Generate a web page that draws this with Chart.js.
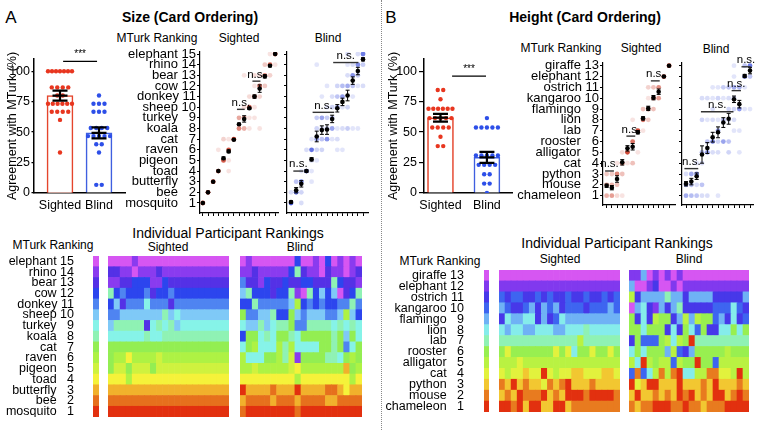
<!DOCTYPE html>
<html><head><meta charset="utf-8">
<script src="https://cdn.jsdelivr.net/npm/chart.js@4.4.1/dist/chart.umd.min.js"></script>
<style>
html,body{margin:0;padding:0;background:#fff}
body{position:relative;width:757px;height:430px;overflow:hidden;font-family:"Liberation Sans",Arial,Helvetica,sans-serif;color:#000}
canvas{position:absolute;display:block}
.t{position:absolute;white-space:nowrap;line-height:1;transform:translate(-50%,-50%)}
.sep{position:absolute;left:381px;top:0;height:430px;border-left:1px dotted #888}
</style></head><body>
<div class="sep"></div>
<div class="t" style="left:11px;top:17px;font-size:17px">A</div>
<div class="t" style="left:190px;top:17px;font-size:14px;font-weight:bold">Size (Card Ordering)</div>
<div class="t" style="left:391px;top:17px;font-size:17px">B</div>
<div class="t" style="left:585px;top:17px;font-size:14px;font-weight:bold">Height (Card Ordering)</div>
<div class="t" style="left:157px;top:38px;font-size:12px">MTurk Ranking</div>
<div class="t" style="left:239px;top:38px;font-size:12px">Sighted</div>
<div class="t" style="left:328px;top:38px;font-size:12px">Blind</div>
<div class="t" style="left:561px;top:48px;font-size:12px">MTurk Ranking</div>
<div class="t" style="left:641px;top:48px;font-size:12px">Sighted</div>
<div class="t" style="left:716px;top:49px;font-size:12px">Blind</div>
<div class="t" style="left:53px;top:245px;font-size:12px">MTurk Ranking</div>
<div class="t" style="left:228px;top:233px;font-size:14px">Individual Participant Rankings</div>
<div class="t" style="left:168px;top:247px;font-size:12px">Sighted</div>
<div class="t" style="left:300px;top:247px;font-size:12px">Blind</div>
<div class="t" style="left:440px;top:261px;font-size:12px">MTurk Ranking</div>
<div class="t" style="left:617px;top:243px;font-size:14px">Individual Participant Rankings</div>
<div class="t" style="left:560px;top:259px;font-size:12px">Sighted</div>
<div class="t" style="left:689px;top:259px;font-size:12px">Blind</div>
<script>
// ---------------- DATA ----------------
const groups = ['Sighted', 'Blind'];
const barTicks = [0, 25, 50, 75, 100];

// Agreement with MTurk (%) per participant
const sizeAgreeSighted = [100,100,100,100,100,100,100,86.7,86.7,86.7,86.7,80,80,73.3,73.3,73.3,73.3,73.3,73.3,66.7,66.7,66.7,66.7,60,33.3];
const sizeAgreeBlind = [80,73.3,73.3,73.3,66.7,66.7,66.7,53.3,53.3,53.3,53.3,46.7,46.7,46.7,46.7,46.7,40,40,33.3,6.7,6.7];
const sizeAgreeMean = [80, 49.3];
const sizeAgreeSem = [4.1, 4.5];
const heightAgreeSighted = [84.6,84.6,76.9,69.2,69.2,69.2,69.2,69.2,69.2,61.5,61.5,61.5,61.5,61.5,53.8,53.8,53.8,53.8,46.2,38.5,38.5];
const heightAgreeBlind = [61.5,53.8,53.8,53.8,53.8,53.8,30.8,30.8,30.8,30.8,30.8,23.1,23.1,23.1,23.1,15.4,15.4,7.7,7.7,0];
const heightAgreeMean = [61.8, 29.3];
const heightAgreeSem = [3.2, 4.5];

// Items in MTurk rank order (rank 1 first)
const sizeItems = ['mosquito','bee','butterfly','toad','pigeon','raven','cat','koala','turkey','sheep','donkey','cow','bear','rhino','elephant'];
const heightItems = ['chameleon','mouse','python','cat','alligator','rooster','lab','lion','flamingo','kangaroo','ostrich','elephant','giraffe'];

// Mean participant rank per item (item order = MTurk rank 1..N) and SEM
const sizeMeanSighted = [1.0,2.0,3.0,4.0,5.2,5.85,6.95,8.4,8.9,9.9,11.0,11.75,12.9,13.9,15.0];
const sizeSemSighted  = [0,0,0,0,0.12,0.12,0.05,0.1,0.3,0.1,0.15,0.35,0.15,0.1,0];
const sizeMeanBlind   = [1.1,2.2,2.8,4.0,5.1,7.25,7.85,7.9,8.9,9.9,10.5,11.1,12.5,13.4,14.5];
const sizeSemBlind    = [0.1,0.25,0.3,0.1,0.15,0.5,0.4,0.45,0.35,0.35,0.35,0.5,0.35,0.35,0.15];
const heightMeanSighted = [1.92,1.74,2.54,4.08,5.37,5.52,6.85,8.14,9.06,10.05,10.6,12.0,13.0];
const heightSemSighted  = [0.15,0.2,0.3,0.25,0.25,0.3,0.15,0.15,0.2,0.2,0.25,0.05,0];
const heightMeanBlind   = [2.1,2.3,2.8,4.8,5.4,6.4,6.85,7.75,8.1,9.9,9.45,12.05,12.55];
const heightSemBlind    = [0.2,0.3,0.3,0.8,0.5,0.45,0.5,0.45,0.5,0.3,0.35,0.15,0.3];

// n.s. brackets: [from item, to item, at rank]
const sizeNsSighted = [[7.6,9.1,9.8],[10.6,12.15,12.45]];
const sizeNsBlind = [[1.45,3.4,4.0],[5.2,9.4,9.52],[9.2,14.1,14.2]];
const heightNsSighted = [[0.7,2.4,3.28],[4.8,6.5,6.5],[9.5,11.2,11.6]];
const heightNsBlind = [[0.7,3.3,3.5],[3.8,9.9,8.75],[9.55,11.3,10.7],[11.4,13.1,12.9]];

// Individual participant rankings: rows from highest MTurk rank (top) to rank 1 (bottom), one column per participant
const sizeSighted = [
 [15,15,15,15,14,15,15,15,15,15,15,15,15,15,15,15,15,15,15,15],
 [13,13,14,14,15,14,14,14,13,14,14,14,14,14,14,14,14,14,14,14],
 [14,14,13,13,12,12,12,14,14,12,13,13,13,13,13,13,13,13,13,13],
 [8,12,11,12,12,12,11,13,12,12,11,12,12,12,12,12,12,12,12,12],
 [12,10,13,11,11,11,9,11,11,11,13,11,11,11,11,11,11,11,11,11],
 [11,11,10,10,10,10,10,10,10,8,10,9,10,10,10,10,10,10,10,10],
 [10,8,8,8,8,8,13,9,8,9,8,10,9,9,9,9,9,9,9,9],
 [9,9,9,9,9,9,8,9,9,8,8,8,8,8,8,8,8,8,8,8],
 [7,7,7,7,7,7,7,7,7,7,7,7,7,7,7,7,7,7,7,7],
 [7,6,6,4,6,6,6,6,5,6,6,6,6,6,6,6,6,6,6,6],
 [7,5,5,7,5,5,5,7,5,5,5,5,5,5,5,5,5,5,5,5],
 [4,4,4,6,4,4,4,4,4,4,4,4,4,4,4,4,4,4,4,4],
 [3,3,3,3,3,3,3,3,3,3,3,3,3,3,3,3,3,3,3,3],
 [2,2,2,2,2,2,2,2,2,2,2,2,2,2,2,2,2,2,2,2],
 [1,1,1,1,1,1,1,1,1,1,1,1,1,1,1,1,1,1,1,1]
];
const sizeBlind = [
 [15,14,15,15,15,15,15,15,15,12,15,15,14,15,12,15,14,15,14,15],
 [14,14,13,14,14,14,14,14,12,8,13,14,14,15,13,14,14,15,14,13],
 [11,13,13,14,12,13,13,12,13,13,12,12,13,13,13,8,12,13,13,14],
 [10,8,12,12,12,13,12,12,8,14,15,8,12,10,12,10,15,13,12,8],
 [12,12,8,11,11,11,11,11,10,6,12,11,12,11,12,12,11,11,8,11],
 [7,11,11,10,10,8,12,12,7,10,11,10,10,10,11,11,10,6,10,12],
 [9,10,10,8,10,9,8,8,7,11,11,8,8,8,8,9,8,9,8,9],
 [12,7,7,9,8,9,7,7,8,9,7,7,7,7,7,8,7,10,7,9],
 [9,7,6,9,9,9,6,8,6,9,9,9,9,7,7,8,7,11,9,7],
 [6,9,9,9,7,7,6,8,5,14,7,7,7,7,8,8,9,7,6,7],
 [6,6,5,6,6,6,6,6,5,4,6,6,6,6,6,6,6,3,7,6],
 [4,4,4,4,4,4,4,4,4,6,4,4,4,4,4,4,4,4,6,4],
 [1,3,3,3,3,2,3,3,3,1,3,3,3,3,2,2,3,4,3,3],
 [3,2,2,2,2,3,2,2,2,3,2,2,2,2,3,3,2,2,2,2],
 [2,1,1,1,1,1,1,1,1,2,1,1,1,1,1,1,1,1,1,1]
];
const heightSighted = [
 [13,13,13,13,13,13,13,13,13,13,13,13,13,13,13,13,13,13,13,13],
 [12,12,12,12,12,12,12,12,12,12,12,12,12,12,12,12,12,12,12,12],
 [10,11,10,10,11,11,10,11,10,11,11,10,11,11,10,11,11,10,11,10],
 [9,10,11,11,10,9,11,9,10,9,11,10,10,10,11,10,10,10,9,10],
 [11,8,9,9,8,8,11,9,11,10,8,9,9,9,9,9,9,9,9,9],
 [8,9,8,8,9,9,8,8,8,9,9,8,8,8,7,8,8,8,8,8],
 [7,7,7,7,7,7,7,7,7,7,7,7,7,5,7,7,7,7,7,7],
 [6,4,6,6,6,6,6,6,6,4,6,4,8,6,6,4,6,6,4,6],
 [5,5,5,4,5,5,5,5,5,5,5,5,5,5,5,5,5,5,5,5],
 [4,5,4,4,3,4,4,1,4,5,4,4,3,3,4,4,4,3,3,4],
 [2,3,1,3,2,3,3,4,2,3,2,1,3,3,3,2,3,3,3,3],
 [3,2,3,1,2,2,2,1,3,2,3,1,1,1,2,1,1,1,1,2],
 [1,1,2,1,3,1,1,3,3,1,1,3,2,2,2,2,2,2,2,2]
];
const heightBlind = [
 [12,12,9,13,12,13,12,13,12,13,13,13,13,13,13,13,13,13,13,13],
 [9,13,13,12,11,13,13,12,13,12,12,12,12,12,12,12,12,12,12,12],
 [5,11,9,9,9,9,7,9,9,11,9,9,9,9,11,11,11,11,11,9],
 [13,9,8,11,12,9,11,9,7,11,11,11,11,11,10,10,10,8,10,11],
 [6,11,8,11,5,6,6,11,9,5,9,5,6,6,10,9,11,8,11,10],
 [6,6,8,6,6,6,11,8,11,6,8,10,6,11,11,8,8,6,8,6],
 [11,6,10,10,10,6,5,8,5,6,1,7,7,7,7,7,7,7,7,7],
 [8,6,8,6,6,6,9,5,10,11,9,6,6,6,6,6,5,6,6,6],
 [5,8,1,5,6,5,5,10,5,6,6,1,6,6,10,5,5,5,5,5],
 [10,2,10,8,5,2,5,2,1,8,8,5,5,2,2,4,4,5,1,5],
 [1,4,3,1,1,3,3,3,1,3,3,3,2,3,1,3,3,3,2,3],
 [3,1,3,3,2,3,2,3,1,2,1,3,2,3,1,1,3,2,1,2],
 [2,3,2,2,1,1,1,2,2,1,2,2,3,2,2,2,1,1,1,1]
];

// ---------------- STYLE / HELPERS ----------------
const rainbow = ['#e2300f','#e6701d','#f1b12c','#f5f23a','#cff23f','#aef244','#93ee52','#8ff2b4','#86f3e8','#7fc9f7','#4f84f1','#2c45ee','#5431e6','#8a3bef','#d656f2'];
function hex(h){return [1,3,5].map(i=>parseInt(h.substr(i,2),16));}
function colorFor(rank,n){
  const t=(rank-1)/(n-1)*(rainbow.length-1);
  const i=Math.min(Math.floor(t),rainbow.length-2), f=t-i;
  const a=hex(rainbow[i]), b=hex(rainbow[i+1]);
  return 'rgb('+a.map((v,k)=>Math.round(v+(b[k]-v)*f)).join(',')+')';
}
const FONT='"Liberation Sans", Arial, Helvetica, sans-serif';
Chart.defaults.font.family=FONT;
Chart.defaults.color='#000';
function mk(x,y,w,h){const c=document.createElement('canvas');c.width=w;c.height=h;c.style.left=x+'px';c.style.top=y+'px';c.style.width=w+'px';c.style.height=h+'px';document.body.appendChild(c);return c;}
const zeroPad=s=>{s.paddingTop=s.paddingBottom=s.paddingLeft=s.paddingRight=0;};
const fixW=w=>s=>{s.width=w;zeroPad(s);};
const fixH=h=>s=>{s.height=h;zeroPad(s);};
const base={animation:false,responsive:false,events:[],plugins:{legend:{display:false},tooltip:{enabled:false}}};
function itemLabel(names,i){const r=i+1;return names[i]+' '+(r<10?'\u2007':'')+r;}

function swarm(vals,center,ppu){
  const cnt=new Map();vals.forEach(v=>cnt.set(v,(cnt.get(v)||0)+1));
  const pts=[];
  cnt.forEach((k,v)=>{const sp=Math.min(5.5,24/Math.max(k-1,1));for(let j=0;j<k;j++)pts.push({x:center+(j-(k-1)/2)*sp/ppu,y:v});});
  return pts;
}

function barChart(cx,cy,w,vals,means,sems,sig,g){
  const c=mk(cx,cy,w,180);
  const dotCols=['#e8361f','#2d4fe8'], edge=['#e5452c','#3f5fe0'];
  const ds=vals.map((v,gi)=>({type:'scatter',data:swarm(v,gi+1,g.ppu),pointRadius:2.2,pointBorderWidth:0,pointBackgroundColor:dotCols[gi]}));
  ds.push({type:'bar',data:means.map((m,i)=>({x:i+1,y:m})),backgroundColor:'#fff',borderColor:edge,borderWidth:1.6,barThickness:26,borderSkipped:'bottom'});
  const ov={id:'ov',
    afterDatasetsDraw(ch){
      const x=ch.scales.x,y=ch.scales.y,ctx=ch.ctx;ctx.save();ctx.strokeStyle='#000';ctx.lineWidth=2.2;
      means.forEach((m,i)=>{const px=x.getPixelForValue(i+1),a=y.getPixelForValue(m-sems[i]),b=y.getPixelForValue(m+sems[i]);
        ctx.beginPath();ctx.moveTo(px,a);ctx.lineTo(px,b);ctx.moveTo(px-7.5,a);ctx.lineTo(px+7.5,a);ctx.moveTo(px-7.5,b);ctx.lineTo(px+7.5,b);
        ctx.moveTo(px-7.5,y.getPixelForValue(m));ctx.lineTo(px+7.5,y.getPixelForValue(m));ctx.stroke();});
      const x1=x.getPixelForValue(sig[0]),x2=x.getPixelForValue(sig[1]),py=y.getPixelForValue(sig[2]);
      ctx.lineWidth=1.2;ctx.beginPath();ctx.moveTo(x1,py);ctx.lineTo(x2,py);ctx.stroke();
      ctx.fillStyle='#000';ctx.font='10px '+FONT;ctx.textAlign='center';ctx.textBaseline='bottom';ctx.fillText('***',(x1+x2)/2,py-2);
      ctx.restore();}
  };
  return new Chart(c,{type:'scatter',data:{datasets:ds},plugins:[ov],options:{...base,
    layout:{padding:{top:g.padT,right:g.padR,left:0,bottom:0}},
    scales:{
      x:{type:'linear',offset:false,min:g.xmin,max:g.xmax,afterBuildTicks:s=>{s.ticks=groups.map((_,i)=>({value:i+1}));},afterFit:fixH(g.xH),
        ticks:{padding:5,autoSkip:false,maxRotation:0,font:{size:12.5},callback:v=>groups[Math.round(v)-1]},grid:{display:false,drawTicks:false,offset:false},border:{color:'#000',width:1.5}},
      y:{type:'linear',min:0,max:110,afterBuildTicks:s=>{s.ticks=barTicks.map(v=>({value:v}));},afterFit:fixW(g.yW),
        ticks:{display:true,padding:g.tp,autoSkip:false,font:{size:12.5,lineHeight:1},callback:(v,i)=>String(barTicks[i])},
        grid:{display:true,drawOnChartArea:false,tickLength:g.tl,color:'#000',lineWidth:1.2},border:{color:'#000',width:1.5},
        title:{display:true,text:'Agreement with MTurk (%)',font:{size:12.5},padding:{top:g.tPad,bottom:0}}}
    }}});
}

function dotPlot(c,rows,means,sems,ns,rgb,names,g){
  const n=rows.length,pts=[],cols=[];
  for(let item=1;item<=n;item++){
    const row=rows[n-item],cnt=new Map();row.forEach(v=>cnt.set(v,(cnt.get(v)||0)+1));
    cnt.forEach((k,r)=>{pts.push({x:item,y:r});cols.push('rgba('+rgb+','+(0.1+0.9*k/row.length).toFixed(3)+')');});
  }
  const ov={id:'ov',afterDatasetsDraw(ch){
    const x=ch.scales.x,y=ch.scales.y,ctx=ch.ctx;ctx.save();ctx.strokeStyle='#000';ctx.lineWidth=1;
    means.forEach((m,i)=>{const s=sems[i];if(s<0.03)return;const px=x.getPixelForValue(i+1),a=y.getPixelForValue(m-s),b=y.getPixelForValue(m+s);
      ctx.beginPath();ctx.moveTo(px,a);ctx.lineTo(px,b);ctx.moveTo(px-2,a);ctx.lineTo(px+2,a);ctx.moveTo(px-2,b);ctx.lineTo(px+2,b);ctx.stroke();});
    ctx.strokeStyle='#333';ctx.lineWidth=1.4;ctx.fillStyle='#000';ctx.font='11.5px '+FONT;ctx.textAlign='center';ctx.textBaseline='bottom';
    ns.forEach(([a,b,r])=>{const x1=x.getPixelForValue(a),x2=x.getPixelForValue(b),py=y.getPixelForValue(r);
      ctx.beginPath();ctx.moveTo(x1,py);ctx.lineTo(x2,py);ctx.stroke();ctx.fillText('n.s.',(x1+x2)/2,py-1);});
    ctx.restore();}};
  const tickGrid={display:true,drawOnChartArea:false,tickLength:3,color:'#000',lineWidth:1};
  return new Chart(c,{type:'scatter',data:{datasets:[
      {data:means.map((m,i)=>({x:i+1,y:m})),pointRadius:2.3,pointBorderWidth:0,pointBackgroundColor:'#000'},
      {data:pts,pointRadius:2.4,pointBorderWidth:0,pointBackgroundColor:cols}
    ]},plugins:[ov],options:{...base,
    layout:{padding:{top:g.padT,right:g.padR,left:0,bottom:0}},
    scales:{
      x:{type:'linear',min:g.xmin,max:g.xmax,afterBuildTicks:s=>{s.ticks=means.map((_,i)=>({value:i+1}));},afterFit:fixH(g.xH),
        ticks:{display:false,autoSkip:false},grid:tickGrid,border:{color:'#000',width:1.2}},
      y:{type:'linear',min:g.ymin,max:g.ymax,afterBuildTicks:s=>{s.ticks=means.map((_,i)=>({value:i+1}));},afterFit:fixW(g.yW),
        ticks:{display:!!names,autoSkip:false,padding:1,font:{size:13,lineHeight:1},callback:(v,i)=>names?itemLabel(names,i):''},grid:tickGrid,border:{color:'#000',width:1.2}}
    }}});
}

function heatmap(c,rows){
  const n=rows.length,datasets=[];
  for(let k=1;k<=n;k++){const row=rows[n-k];datasets.push({data:row.map(()=>1),backgroundColor:row.map(v=>colorFor(v,n)),borderWidth:0,barPercentage:1,categoryPercentage:1});}
  return new Chart(c,{type:'bar',data:{labels:rows[0].map((_,i)=>i+1),datasets},options:{...base,layout:{padding:0},
    scales:{x:{stacked:true,display:false},y:{stacked:true,display:false,min:0,max:n}}}});
}

function rankBar(c,names,g){
  const n=names.length,datasets=[];
  for(let k=1;k<=n;k++)datasets.push({data:[1],backgroundColor:colorFor(k,n),borderWidth:0,barPercentage:1,categoryPercentage:1});
  return new Chart(c,{type:'bar',data:{labels:[''],datasets},options:{...base,layout:{padding:0},
    scales:{x:{stacked:true,display:false},
      y:{stacked:true,min:0,max:n,afterBuildTicks:s=>{s.ticks=names.map((_,i)=>({value:i+0.5}));},afterFit:fixW(g.yW),
        ticks:{padding:g.tp,autoSkip:false,font:{size:12.5,lineHeight:1},callback:(v,i)=>itemLabel(names,i)},grid:{display:false},border:{display:false}}}}});
}

// ---------------- BUILD ----------------
barChart(2,40,133,[sizeAgreeSighted,sizeAgreeBlind],sizeAgreeMean,sizeAgreeSem,[1.08,1.95,108],
  {ppu:39,padT:19,padR:10,xH:27,yW:32,xmin:1/3,xmax:8/3,tp:1.5,tl:2.5,tPad:3.5});
barChart(385,40,135,[heightAgreeSighted,heightAgreeBlind],heightAgreeMean,heightAgreeSem,[1.25,1.98,95.9],
  {ppu:46.5,padT:19,padR:8,xH:27,yW:39,xmin:0.645,xmax:2.54,tp:2,tl:5,tPad:1.5});

dotPlot(mk(110,44,172,176),sizeSighted,sizeMeanSighted,sizeSemSighted,sizeNsSighted,'205,65,45',sizeItems,
  {padT:8,padR:3,xH:7,yW:90,xmin:0.45,xmax:15.55,ymin:0.06,ymax:15.19});
dotPlot(mk(278,44,95,176),sizeBlind,sizeMeanBlind,sizeSemBlind,sizeNsBlind,'55,75,220',null,
  {padT:8,padR:5,xH:7,yW:9,xmin:0.22,xmax:15.97,ymin:0.06,ymax:15.19});
dotPlot(mk(515,50,164,163),heightSighted,heightMeanSighted,heightSemSighted,heightNsSighted,'205,65,45',heightItems,
  {padT:13,padR:3,xH:8,yW:88,xmin:0.3,xmax:14.14,ymin:0.14,ymax:13.25});
dotPlot(mk(673,50,84,163),heightBlind,heightMeanBlind,heightSemBlind,heightNsBlind,'55,75,220',null,
  {padT:13,padR:4,xH:8,yW:9,xmin:0.25,xmax:13.56,ymin:0.14,ymax:13.25});

rankBar(mk(0,256,99,161),sizeItems,{yW:93,tp:11});
heatmap(mk(108,256,121,161),sizeSighted);
heatmap(mk(240,256,122,161),sizeBlind);
rankBar(mk(385,270,104,142),heightItems,{yW:99,tp:12});
heatmap(mk(499,270,121,142),heightSighted);
heatmap(mk(629,270,120,142),heightBlind);
</script>
</body></html>
